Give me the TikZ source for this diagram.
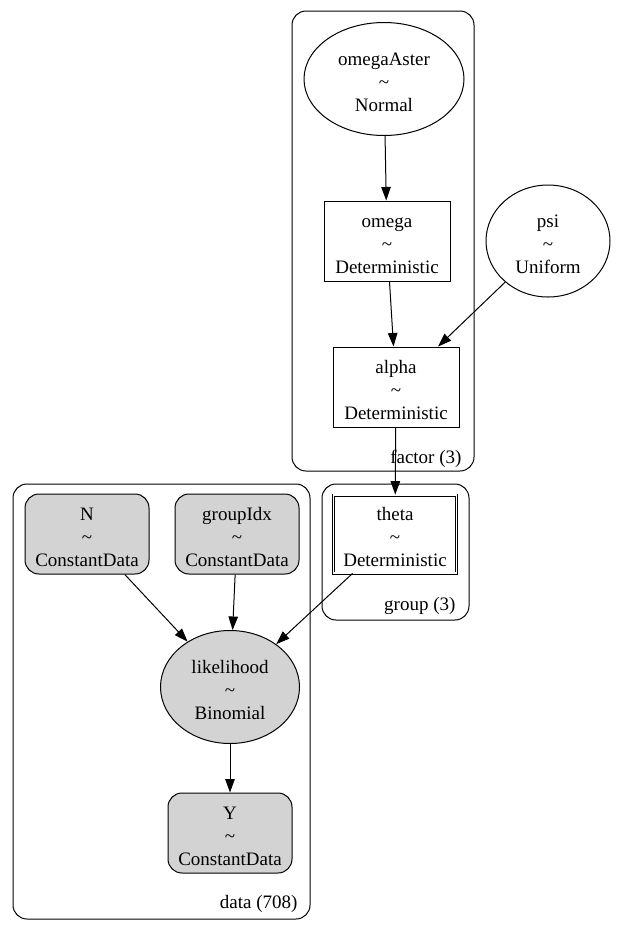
\documentclass[tikz,border=0pt]{standalone}
\usepackage{fontspec}
\setmainfont{Liberation Serif}
\usetikzlibrary{arrows.meta,shapes.geometric}
\definecolor{gvgrey}{RGB}{211,211,211}
\newcommand{\rvtext}[2]{\rule{0pt}{20pt}#1\\\textasciitilde\\#2}

\begin{document}
\begin{tikzpicture}[x=1pt, y=-1pt,
  every node/.style={font=\fontsize{19}{23}\selectfont, align=center},
  plate/.style={draw, rounded corners=14pt, line width=1pt},
  rvar/.style={ellipse, draw, line width=1pt, inner sep=0pt},
  dvar/.style={rectangle, draw, line width=1pt,
               minimum width=126pt, minimum height=80pt, inner sep=0pt},
  cdata/.style={dvar, rounded corners=14pt, fill=gvgrey},
  lbl/.style={anchor=base east},
  arr/.style={-{Triangle[length=13.5pt,width=9.5pt]}, line width=1pt}
]
\useasboundingbox (0,0) rectangle (619,927);

% Plates
\draw[plate] (292,11) rectangle (474,471);
\draw[plate] (322,484) rectangle (469,620);
\draw[plate] (13,484) rectangle (310,919);

\node[lbl] (factorlbl) at (465,463) {factor (3)};
\node[lbl] (grouplbl)  at (459,610) {group (3)};
\node[lbl] (datalbl)   at (301,908) {data (708)};

% Variables
\node[rvar, minimum width=160pt, minimum height=113pt] (omegaAster) at (384,79)
  {\rvtext{omegaAster}{Normal}};
\node[dvar] (omega) at (387,241) {\rvtext{omega}{Deterministic}};
\node[rvar, minimum width=124pt, minimum height=112pt] (psi) at (548,241)
  {\rvtext{psi}{Uniform}};
\node[dvar] (alpha) at (396,387) {\rvtext{alpha}{Deterministic}};
\node[dvar, double, line width=0.8pt, double distance=1.4pt,
      minimum width=123pt, minimum height=78pt]
  (theta) at (395,534) {\rvtext{theta}{Deterministic}};

% Data
\node[cdata, minimum width=124pt] (N) at (87,534) {\rvtext{N}{ConstantData}};
\node[cdata, minimum width=124pt] (groupIdx) at (237,534) {\rvtext{groupIdx}{ConstantData}};
\node[rvar, fill=gvgrey, minimum width=139pt, minimum height=113pt] (likelihood) at (230,687)
  {\rvtext{likelihood}{Binomial}};
\node[cdata, minimum width=124pt] (Y) at (230,833) {\rvtext{Y}{ConstantData}};

% Arrows
\draw[arr] (omegaAster) -- (omega);
\draw[arr] (omega) -- (alpha);
\draw[arr] (psi) -- (alpha);
\draw[arr] (alpha) -- (theta);
\draw[arr] (N) -- (likelihood);
\draw[arr] (groupIdx) -- (likelihood);
\draw[arr] (theta) -- (likelihood);
\draw[arr] (likelihood) -- (Y);
\end{tikzpicture}
\end{document}
